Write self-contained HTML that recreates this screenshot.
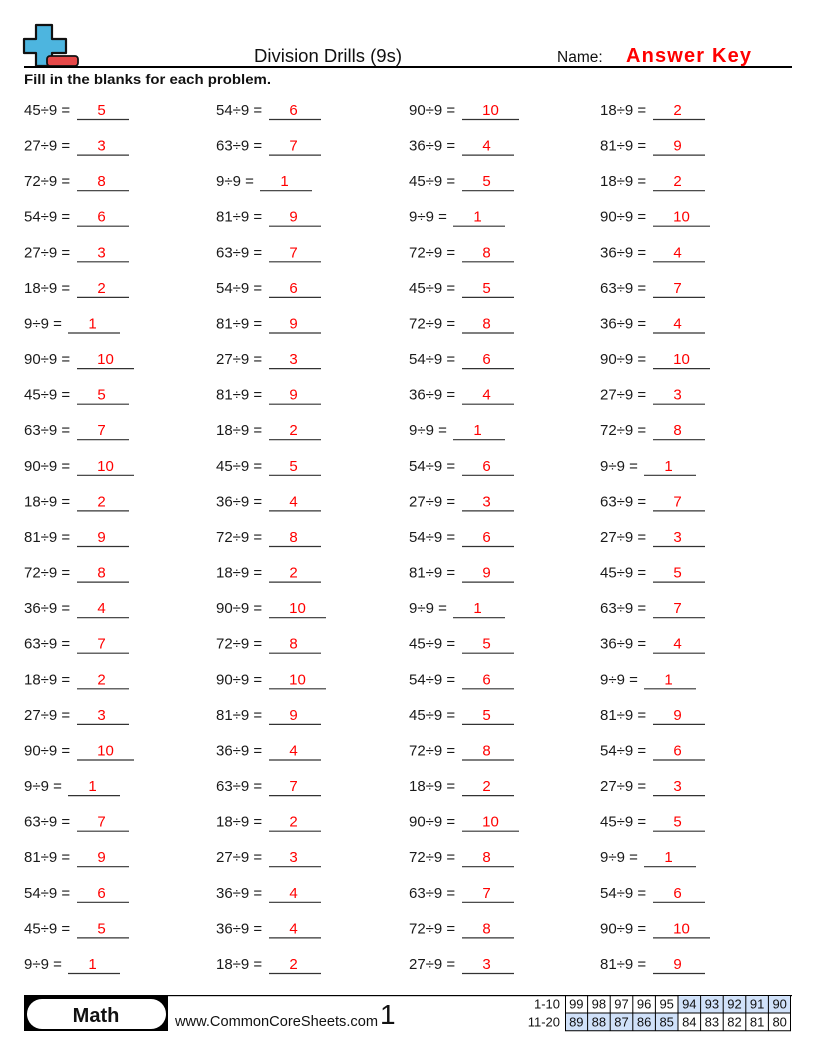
<!DOCTYPE html>
<html><head><meta charset="utf-8"><style>
html,body{margin:0;padding:0;background:#fff;}
svg{display:block;}
text{font-family:"Liberation Sans",Arial,sans-serif;}
.p text{font-size:15px;fill:#1a1a1a;}
.p text.a{fill:#f00;text-anchor:middle;}
.p path{stroke:#333;stroke-width:1.2;fill:none;}
.t text{font-size:13px;fill:#111;text-anchor:middle;}
</style></head><body>
<svg width="816" height="1056" viewBox="0 0 816 1056" xmlns="http://www.w3.org/2000/svg">
<!-- logo -->
<path d="M36 25H52V39H66V53H52V66H36V53H24V39H36Z" fill="#4db5df" stroke="#111" stroke-width="2.2" stroke-linejoin="round"/>
<rect x="47" y="56" width="31" height="10" rx="3" fill="#e54848" stroke="#111" stroke-width="1.8"/>
<rect x="24" y="66" width="768" height="2" fill="#000"/>
<text x="254" y="62" font-size="18.5" fill="#111" textLength="148" lengthAdjust="spacingAndGlyphs">Division Drills (9s)</text>
<text x="557" y="62" font-size="15.5" fill="#111">Name:</text>
<text x="626" y="62" font-size="20" font-weight="bold" fill="#f00" textLength="125" lengthAdjust="spacing">Answer Key</text>
<text x="24" y="84" font-size="13.5" font-weight="bold" fill="#111" textLength="247" lengthAdjust="spacingAndGlyphs">Fill in the blanks for each problem.</text>

<g class="p">
<g transform="translate(0,115)"><text x="24">45÷9 =</text><text class="a" x="101.5">5</text><text x="216">54÷9 =</text><text class="a" x="293.5">6</text><text x="409">90÷9 =</text><text class="a" x="490.5">10</text><text x="600">18÷9 =</text><text class="a" x="677.5">2</text><path d="M77 4.5h52M269 4.5h52M462 4.5h57M653 4.5h52"/></g>
<g transform="translate(0,150.6)"><text x="24">27÷9 =</text><text class="a" x="101.5">3</text><text x="216">63÷9 =</text><text class="a" x="293.5">7</text><text x="409">36÷9 =</text><text class="a" x="486.5">4</text><text x="600">81÷9 =</text><text class="a" x="677.5">9</text><path d="M77 4.5h52M269 4.5h52M462 4.5h52M653 4.5h52"/></g>
<g transform="translate(0,186.2)"><text x="24">72÷9 =</text><text class="a" x="101.5">8</text><text x="216">9÷9 =</text><text class="a" x="284.5">1</text><text x="409">45÷9 =</text><text class="a" x="486.5">5</text><text x="600">18÷9 =</text><text class="a" x="677.5">2</text><path d="M77 4.5h52M260 4.5h52M462 4.5h52M653 4.5h52"/></g>
<g transform="translate(0,221.7)"><text x="24">54÷9 =</text><text class="a" x="101.5">6</text><text x="216">81÷9 =</text><text class="a" x="293.5">9</text><text x="409">9÷9 =</text><text class="a" x="477.5">1</text><text x="600">90÷9 =</text><text class="a" x="681.5">10</text><path d="M77 4.5h52M269 4.5h52M453 4.5h52M653 4.5h57"/></g>
<g transform="translate(0,257.3)"><text x="24">27÷9 =</text><text class="a" x="101.5">3</text><text x="216">63÷9 =</text><text class="a" x="293.5">7</text><text x="409">72÷9 =</text><text class="a" x="486.5">8</text><text x="600">36÷9 =</text><text class="a" x="677.5">4</text><path d="M77 4.5h52M269 4.5h52M462 4.5h52M653 4.5h52"/></g>
<g transform="translate(0,292.9)"><text x="24">18÷9 =</text><text class="a" x="101.5">2</text><text x="216">54÷9 =</text><text class="a" x="293.5">6</text><text x="409">45÷9 =</text><text class="a" x="486.5">5</text><text x="600">63÷9 =</text><text class="a" x="677.5">7</text><path d="M77 4.5h52M269 4.5h52M462 4.5h52M653 4.5h52"/></g>
<g transform="translate(0,328.5)"><text x="24">9÷9 =</text><text class="a" x="92.5">1</text><text x="216">81÷9 =</text><text class="a" x="293.5">9</text><text x="409">72÷9 =</text><text class="a" x="486.5">8</text><text x="600">36÷9 =</text><text class="a" x="677.5">4</text><path d="M68 4.5h52M269 4.5h52M462 4.5h52M653 4.5h52"/></g>
<g transform="translate(0,364.1)"><text x="24">90÷9 =</text><text class="a" x="105.5">10</text><text x="216">27÷9 =</text><text class="a" x="293.5">3</text><text x="409">54÷9 =</text><text class="a" x="486.5">6</text><text x="600">90÷9 =</text><text class="a" x="681.5">10</text><path d="M77 4.5h57M269 4.5h52M462 4.5h52M653 4.5h57"/></g>
<g transform="translate(0,399.7)"><text x="24">45÷9 =</text><text class="a" x="101.5">5</text><text x="216">81÷9 =</text><text class="a" x="293.5">9</text><text x="409">36÷9 =</text><text class="a" x="486.5">4</text><text x="600">27÷9 =</text><text class="a" x="677.5">3</text><path d="M77 4.5h52M269 4.5h52M462 4.5h52M653 4.5h52"/></g>
<g transform="translate(0,435.2)"><text x="24">63÷9 =</text><text class="a" x="101.5">7</text><text x="216">18÷9 =</text><text class="a" x="293.5">2</text><text x="409">9÷9 =</text><text class="a" x="477.5">1</text><text x="600">72÷9 =</text><text class="a" x="677.5">8</text><path d="M77 4.5h52M269 4.5h52M453 4.5h52M653 4.5h52"/></g>
<g transform="translate(0,470.8)"><text x="24">90÷9 =</text><text class="a" x="105.5">10</text><text x="216">45÷9 =</text><text class="a" x="293.5">5</text><text x="409">54÷9 =</text><text class="a" x="486.5">6</text><text x="600">9÷9 =</text><text class="a" x="668.5">1</text><path d="M77 4.5h57M269 4.5h52M462 4.5h52M644 4.5h52"/></g>
<g transform="translate(0,506.4)"><text x="24">18÷9 =</text><text class="a" x="101.5">2</text><text x="216">36÷9 =</text><text class="a" x="293.5">4</text><text x="409">27÷9 =</text><text class="a" x="486.5">3</text><text x="600">63÷9 =</text><text class="a" x="677.5">7</text><path d="M77 4.5h52M269 4.5h52M462 4.5h52M653 4.5h52"/></g>
<g transform="translate(0,542)"><text x="24">81÷9 =</text><text class="a" x="101.5">9</text><text x="216">72÷9 =</text><text class="a" x="293.5">8</text><text x="409">54÷9 =</text><text class="a" x="486.5">6</text><text x="600">27÷9 =</text><text class="a" x="677.5">3</text><path d="M77 4.5h52M269 4.5h52M462 4.5h52M653 4.5h52"/></g>
<g transform="translate(0,577.6)"><text x="24">72÷9 =</text><text class="a" x="101.5">8</text><text x="216">18÷9 =</text><text class="a" x="293.5">2</text><text x="409">81÷9 =</text><text class="a" x="486.5">9</text><text x="600">45÷9 =</text><text class="a" x="677.5">5</text><path d="M77 4.5h52M269 4.5h52M462 4.5h52M653 4.5h52"/></g>
<g transform="translate(0,613.2)"><text x="24">36÷9 =</text><text class="a" x="101.5">4</text><text x="216">90÷9 =</text><text class="a" x="297.5">10</text><text x="409">9÷9 =</text><text class="a" x="477.5">1</text><text x="600">63÷9 =</text><text class="a" x="677.5">7</text><path d="M77 4.5h52M269 4.5h57M453 4.5h52M653 4.5h52"/></g>
<g transform="translate(0,648.7)"><text x="24">63÷9 =</text><text class="a" x="101.5">7</text><text x="216">72÷9 =</text><text class="a" x="293.5">8</text><text x="409">45÷9 =</text><text class="a" x="486.5">5</text><text x="600">36÷9 =</text><text class="a" x="677.5">4</text><path d="M77 4.5h52M269 4.5h52M462 4.5h52M653 4.5h52"/></g>
<g transform="translate(0,684.3)"><text x="24">18÷9 =</text><text class="a" x="101.5">2</text><text x="216">90÷9 =</text><text class="a" x="297.5">10</text><text x="409">54÷9 =</text><text class="a" x="486.5">6</text><text x="600">9÷9 =</text><text class="a" x="668.5">1</text><path d="M77 4.5h52M269 4.5h57M462 4.5h52M644 4.5h52"/></g>
<g transform="translate(0,719.9)"><text x="24">27÷9 =</text><text class="a" x="101.5">3</text><text x="216">81÷9 =</text><text class="a" x="293.5">9</text><text x="409">45÷9 =</text><text class="a" x="486.5">5</text><text x="600">81÷9 =</text><text class="a" x="677.5">9</text><path d="M77 4.5h52M269 4.5h52M462 4.5h52M653 4.5h52"/></g>
<g transform="translate(0,755.5)"><text x="24">90÷9 =</text><text class="a" x="105.5">10</text><text x="216">36÷9 =</text><text class="a" x="293.5">4</text><text x="409">72÷9 =</text><text class="a" x="486.5">8</text><text x="600">54÷9 =</text><text class="a" x="677.5">6</text><path d="M77 4.5h57M269 4.5h52M462 4.5h52M653 4.5h52"/></g>
<g transform="translate(0,791.1)"><text x="24">9÷9 =</text><text class="a" x="92.5">1</text><text x="216">63÷9 =</text><text class="a" x="293.5">7</text><text x="409">18÷9 =</text><text class="a" x="486.5">2</text><text x="600">27÷9 =</text><text class="a" x="677.5">3</text><path d="M68 4.5h52M269 4.5h52M462 4.5h52M653 4.5h52"/></g>
<g transform="translate(0,826.7)"><text x="24">63÷9 =</text><text class="a" x="101.5">7</text><text x="216">18÷9 =</text><text class="a" x="293.5">2</text><text x="409">90÷9 =</text><text class="a" x="490.5">10</text><text x="600">45÷9 =</text><text class="a" x="677.5">5</text><path d="M77 4.5h52M269 4.5h52M462 4.5h57M653 4.5h52"/></g>
<g transform="translate(0,862.2)"><text x="24">81÷9 =</text><text class="a" x="101.5">9</text><text x="216">27÷9 =</text><text class="a" x="293.5">3</text><text x="409">72÷9 =</text><text class="a" x="486.5">8</text><text x="600">9÷9 =</text><text class="a" x="668.5">1</text><path d="M77 4.5h52M269 4.5h52M462 4.5h52M644 4.5h52"/></g>
<g transform="translate(0,897.8)"><text x="24">54÷9 =</text><text class="a" x="101.5">6</text><text x="216">36÷9 =</text><text class="a" x="293.5">4</text><text x="409">63÷9 =</text><text class="a" x="486.5">7</text><text x="600">54÷9 =</text><text class="a" x="677.5">6</text><path d="M77 4.5h52M269 4.5h52M462 4.5h52M653 4.5h52"/></g>
<g transform="translate(0,933.4)"><text x="24">45÷9 =</text><text class="a" x="101.5">5</text><text x="216">36÷9 =</text><text class="a" x="293.5">4</text><text x="409">72÷9 =</text><text class="a" x="486.5">8</text><text x="600">90÷9 =</text><text class="a" x="681.5">10</text><path d="M77 4.5h52M269 4.5h52M462 4.5h52M653 4.5h57"/></g>
<g transform="translate(0,969)"><text x="24">9÷9 =</text><text class="a" x="92.5">1</text><text x="216">18÷9 =</text><text class="a" x="293.5">2</text><text x="409">27÷9 =</text><text class="a" x="486.5">3</text><text x="600">81÷9 =</text><text class="a" x="677.5">9</text><path d="M68 4.5h52M269 4.5h52M462 4.5h52M653 4.5h52"/></g>
</g>

<!-- footer -->
<rect x="24" y="995" width="144" height="36" fill="#000"/>
<rect x="27" y="999" width="139" height="30" rx="15" ry="15" fill="#fff"/>
<text x="96" y="1022" font-size="20" font-weight="bold" fill="#111" text-anchor="middle">Math</text>
<rect x="168" y="995" width="624" height="1.2" fill="#000"/>
<text x="175" y="1026" font-size="14.5" fill="#111" textLength="203" lengthAdjust="spacingAndGlyphs">www.CommonCoreSheets.com</text>
<text x="380" y="1024" font-size="28" fill="#111">1</text>
<text x="560" y="1008.5" font-size="13" fill="#111" text-anchor="end">1-10</text>
<text x="560" y="1026.5" font-size="13" fill="#111" text-anchor="end">11-20</text>
<rect x="678" y="995" width="113" height="18" fill="#d0e1f9"/>
<rect x="565" y="1013" width="113" height="18" fill="#d0e1f9"/>
<g stroke="#000" stroke-width="1" fill="none">
<path d="M565 995.5H791M565 1013H791M565 1030.8H791"/>
<path d="M565.5 995V1031M587.6 995V1031M610.2 995V1031M632.8 995V1031M655.4 995V1031M678 995V1031M700.6 995V1031M723.2 995V1031M745.8 995V1031M768.4 995V1031M790.5 995V1031"/>
</g>
<g class="t">
<text x="576.3" y="1008.5">99</text><text x="598.9" y="1008.5">98</text><text x="621.5" y="1008.5">97</text><text x="644.1" y="1008.5">96</text><text x="666.7" y="1008.5">95</text><text x="689.3" y="1008.5">94</text><text x="711.9" y="1008.5">93</text><text x="734.5" y="1008.5">92</text><text x="757.1" y="1008.5">91</text><text x="779.7" y="1008.5">90</text>
<text x="576.3" y="1026.5">89</text><text x="598.9" y="1026.5">88</text><text x="621.5" y="1026.5">87</text><text x="644.1" y="1026.5">86</text><text x="666.7" y="1026.5">85</text><text x="689.3" y="1026.5">84</text><text x="711.9" y="1026.5">83</text><text x="734.5" y="1026.5">82</text><text x="757.1" y="1026.5">81</text><text x="779.7" y="1026.5">80</text>
</g>
</svg>
</body></html>
